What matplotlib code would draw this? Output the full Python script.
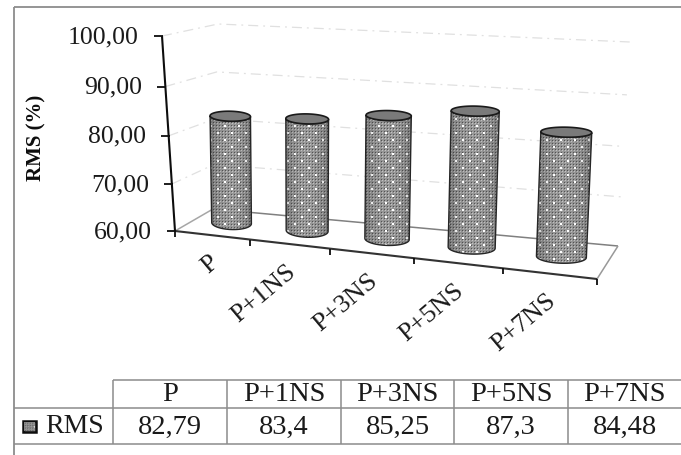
import numpy as np
import matplotlib
matplotlib.use("Agg")
import matplotlib.pyplot as plt
from matplotlib.patches import Polygon, Rectangle

categories = ["P", "P+1NS", "P+3NS", "P+5NS", "P+7NS"]
rms = [82.79, 83.4, 85.25, 87.3, 84.48]
series_name = "RMS"
y_ticks = [60, 70, 80, 90, 100]
y_label = "RMS (%)"

plt.rcParams["font.family"] = ["Liberation Serif", "DejaVu Serif"]

B = 681
H = 456
fig = plt.figure(figsize=(B / 100, H / 100), dpi=100)
ax = fig.add_axes([0, 0, 1, 1])
ax.axis("off")

# Eckpunkte der Box in Pixeln: (vorne/hinten, links/rechts, unten/oben)
ECKEN = {
    (0, 0, 0): (175, 232), (0, 0, 1): (162, 37),
    (0, 1, 0): (597, 280), (0, 1, 1): (604, 64),
    (1, 0, 0): (213, 210), (1, 0, 1): (218, 25),
    (1, 1, 0): (618, 247), (1, 1, 1): (630, 43),
}
K_X = 1.154
K_Y = 1.049


def projektion(u, d, wert):
    # u: 0..1 entlang der Kategorien, d: 0..1 in die Tiefe
    t = u / (u + K_X * (1 - u))
    s = (wert - y_ticks[0]) / (y_ticks[-1] - y_ticks[0])
    s = s / (s + K_Y * (1 - s))
    x = y = 0
    for (a, b, c), (ex, ey) in ECKEN.items():
        g = (d if a else 1 - d) * (t if b else 1 - t) * (s if c else 1 - s)
        x += g * ex
        y += g * ey
    return x, y


def linie(p, q, **kw):
    ax.plot([p[0], q[0]], [p[1], q[1]], solid_capstyle="butt", **kw)


def muster():
    # feines Raster mit versetzten hellen Punkten
    yy, xx = np.mgrid[0:H, 0:B]
    m = np.full((H, B), 0.54)
    m[(xx % 3 == 0) & (yy % 3 == 0)] = 0.3
    m[(xx % 3 == 1) & (yy % 3 == 1)] = 0.7
    zeile = (yy // 7) % 2
    hell = ((xx + zeile * 7) % 14 <= 1) & (yy % 7 <= 1)
    m[hell] = 0.93
    return m


MUSTER = muster()

# Gitterlinien an Seiten- und Rueckwand
for w in y_ticks[1:]:
    a = projektion(0, 0, w)
    b = projektion(0, 1, w)
    c = projektion(1, 1, w)
    ax.plot([a[0], b[0], c[0]], [a[1], b[1], c[1]], color="0.88", lw=0.9,
            ls=(0, (8, 4, 1.5, 4)), zorder=1)

# Boden
linie(projektion(0, 0, 60), projektion(0, 1, 60), color="0.65", lw=1.1, zorder=1)
linie(projektion(0, 1, 60), projektion(1, 1, 60), color="0.5", lw=1.1, zorder=1)
linie(projektion(1, 1, 60), projektion(1, 0, 60), color="0.6", lw=1.1, zorder=1)

# Achsen mit Strichen
linie(projektion(0, 0, y_ticks[0]), projektion(0, 0, y_ticks[-1]), color="0.05", lw=1.5, zorder=5)
linie(projektion(0, 0, 60), projektion(1, 0, 60), color="0.2", lw=1.5, zorder=5)
for w in y_ticks:
    x, y = projektion(0, 0, w)
    linie((x - 8, y), (x + 1, y), color="0.05", lw=1.3, zorder=5)
    ax.text(x - 23, y, f"{w},00", ha="right", va="center", fontsize=18.5, color="0.1")
for i in range(len(categories) + 1):
    x, y = projektion(i / len(categories), 0, 60)
    linie((x, y), (x, y + 6), color="0.05", lw=1.3, zorder=5)

ax.text(36, 138, y_label, rotation=90, ha="center", va="center", fontsize=15,
        fontweight="bold", color="0.05")

# Zylinder
R_U = 0.054
TIEFE = 0.53
n = len(categories)
phi_vorne = np.linspace(0, np.pi, 50)
phi_voll = np.linspace(0, 2 * np.pi, 100)


def ellipse(u, wert, b, phi):
    l = np.array(projektion(u - R_U, TIEFE, wert))
    r = np.array(projektion(u + R_U, TIEFE, wert))
    m = (l + r) / 2
    h = (r - l) / 2
    # nur leicht gekippt, sonst wirkt der Deckel schief
    return np.column_stack([m[0] + h[0] * np.cos(phi),
                            m[1] + 0.3 * h[1] * np.cos(phi) + b * np.sin(phi)])


for i, wert in enumerate(rms):
    u = (i + 0.5) / n
    unten = ellipse(u, 60, 6.5, phi_vorne)
    oben = ellipse(u, wert, 5, phi_vorne)
    mantel = np.vstack([unten, oben[::-1]])

    x0, y0 = np.floor(mantel.min(axis=0)).astype(int)
    x1, y1 = np.ceil(mantel.max(axis=0)).astype(int)
    rel = (np.arange(x0, x1) + 0.5 - x0) / (x1 - x0)
    schatten = 0.72 + 0.38 * np.sin(np.pi * rel) ** 0.5
    bild = np.clip(MUSTER[y0:y1, x0:x1] * schatten, 0, 1)
    im = ax.imshow(bild, cmap="gray", vmin=0, vmax=1, extent=(x0, x1, y1, y0),
                   interpolation="bilinear", aspect="auto", zorder=3)
    rand = Polygon(mantel, closed=True, fc="none", ec="0.15", lw=1.0, zorder=4)
    ax.add_patch(rand)
    im.set_clip_path(rand)

    deckel = Polygon(ellipse(u, wert, 5, phi_voll), closed=True, fc="0.48", ec="0.1",
                     lw=1.2, zorder=4)
    ax.add_patch(deckel)

    # Kategorie schraeg unter der Achse
    x, y = projektion(u, 0, 60)
    ax.text(x + 4, y + 24, categories[i], rotation=40, rotation_mode="anchor",
            ha="right", va="center", fontsize=19, color="0.1")

ax.set_xlim(0, B)
ax.set_ylim(H, 0)

# Rahmen
RAHMEN = "0.55"
linie((14, 8), (B, 8), color=RAHMEN, lw=1.3)
linie((14, 8), (14, H), color=RAHMEN, lw=1.3)

# Datentabelle
SPALTEN = [113, 227, 341, 454, 568, 681]
Y_OBEN, Y_MITTE, Y_UNTEN = 381, 409, 445
linie((SPALTEN[0], Y_OBEN), (B, Y_OBEN), color=RAHMEN, lw=1.1)
linie((14, Y_MITTE), (B, Y_MITTE), color=RAHMEN, lw=1.1)
linie((14, Y_UNTEN), (B, Y_UNTEN), color=RAHMEN, lw=1.1)
for x in SPALTEN[:-1]:
    linie((x, Y_OBEN), (x, Y_UNTEN), color=RAHMEN, lw=1.1)
for i, (name, wert) in enumerate(zip(categories, rms)):
    xm = (SPALTEN[i] + SPALTEN[i + 1]) / 2
    ax.text(xm, 395, name, ha="center", va="center", fontsize=20.5, color="0.1")
    ax.text(xm, 427, str(wert).replace(".", ","), ha="center", va="center", fontsize=20.5, color="0.1")

ax.text(45, 427, series_name, ha="left", va="center", fontsize=20, color="0.1")
ax.add_patch(Rectangle((23, 422), 13, 11, fc="0.55", ec="0.05", lw=1.8, zorder=3))
ax.imshow(MUSTER[422:433, 23:36], cmap="gray", vmin=0, vmax=1, extent=(24, 35, 432, 423),
          interpolation="bilinear", aspect="auto", zorder=4)

ax.set_xlim(0, B)
ax.set_ylim(H, 0)
fig.savefig("out.png", dpi=100)
